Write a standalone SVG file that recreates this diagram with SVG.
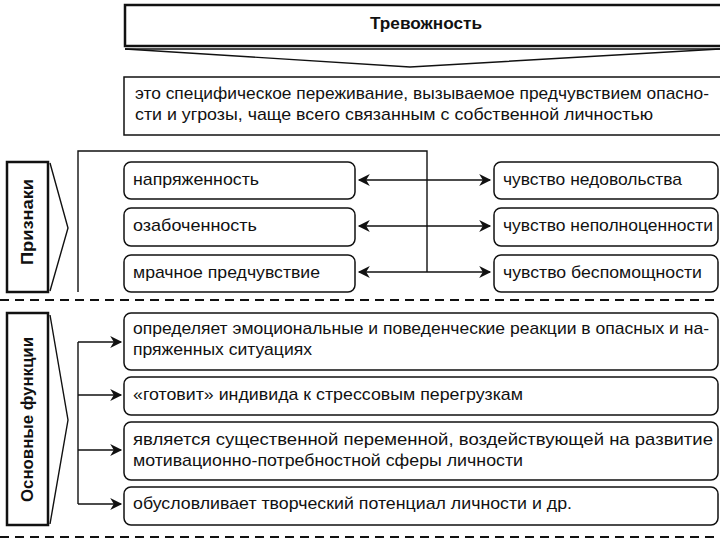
<svg xmlns="http://www.w3.org/2000/svg" width="720" height="540" viewBox="0 0 720 540">
<style>
  .t { font-family: "Liberation Sans", Arial, sans-serif; font-size: 17px; fill: #111; }
  .b { font-family: "Liberation Sans", Arial, sans-serif; font-size: 16px; font-weight: bold; fill: #111; }
  .box { fill: #fff; stroke: #111; stroke-width: 1.5; }
  .side { fill: #fff; stroke: #111; stroke-width: 2.5; }
  .ln { fill: none; stroke: #111; stroke-width: 1.4; }
  .dash { fill: none; stroke: #111; stroke-width: 2; stroke-dasharray: 9 6; }
</style>
<defs>
  <marker id="ah2" viewBox="0 0 10 10" refX="9" refY="5" markerWidth="14" markerHeight="12" markerUnits="userSpaceOnUse" orient="auto-start-reverse">
    <path d="M0,0 L10,5 L0,10 L3,5 Z" fill="#111"/>
  </marker>
</defs>
<rect width="720" height="540" fill="#fff"/>

<g id="title">
  <rect x="125" y="5" width="600" height="41" fill="#fff" stroke="#111" stroke-width="2.5"/>
  <path d="M125,49 L720,49" class="ln" stroke-width="2"/>
  <path d="M125,49 L410,67 L720,49" class="ln" stroke-width="1.8"/>
  <text class="b" x="370" y="29" textLength="112" lengthAdjust="spacingAndGlyphs">Тревожность</text>
</g>

<g id="definition">
  <rect x="124" y="77" width="600" height="58" class="box"/>
  <text class="t" x="135" y="99" textLength="574" lengthAdjust="spacingAndGlyphs">это специфическое переживание, вызываемое предчувствием опасно-</text>
  <text class="t" x="135" y="120" textLength="518" lengthAdjust="spacingAndGlyphs">сти и угрозы, чаще всего связанным с собственной личностью</text>
</g>

<g id="priznaki">
  <rect x="7" y="162" width="41" height="130" class="side"/>
  <path d="M50,163 L68,228 L50,291" class="ln" stroke-width="1.6"/>
  <text class="b" transform="translate(33,265) rotate(-90)" textLength="86" lengthAdjust="spacingAndGlyphs">Признаки</text>
</g>

<g id="funkcii">
  <rect x="7" y="313" width="41" height="212" class="side"/>
  <path d="M50,315 L68,420 L50,524" class="ln" stroke-width="1.6"/>
  <text class="b" transform="translate(33,502) rotate(-90)" textLength="165" lengthAdjust="spacingAndGlyphs">Основные функции</text>
</g>

<g id="sign1">
  <rect x="124" y="162" width="231" height="37" rx="7" class="box"/>
  <text class="t" x="133" y="185" textLength="126" lengthAdjust="spacingAndGlyphs">напряженность</text>
</g>
<g id="sign2">
  <rect x="124" y="208" width="231" height="38" rx="7" class="box"/>
  <text class="t" x="133" y="231" textLength="124" lengthAdjust="spacingAndGlyphs">озабоченность</text>
</g>
<g id="sign3">
  <rect x="124" y="255" width="231" height="37" rx="7" class="box"/>
  <text class="t" x="133" y="278" textLength="187" lengthAdjust="spacingAndGlyphs">мрачное предчувствие</text>
</g>
<g id="feel1">
  <rect x="494" y="162" width="224" height="37" rx="7" class="box"/>
  <text class="t" x="503" y="185" textLength="179" lengthAdjust="spacingAndGlyphs">чувство недовольства</text>
</g>
<g id="feel2">
  <rect x="494" y="208" width="224" height="38" rx="7" class="box"/>
  <text class="t" x="503" y="231" textLength="210" lengthAdjust="spacingAndGlyphs">чувство неполноценности</text>
</g>
<g id="feel3">
  <rect x="494" y="255" width="224" height="37" rx="7" class="box"/>
  <text class="t" x="503" y="278" textLength="199" lengthAdjust="spacingAndGlyphs">чувство беспомощности</text>
</g>

<g id="func1">
  <rect x="124" y="313" width="594" height="57" rx="7" class="box"/>
  <text class="t" x="133" y="334" textLength="576" lengthAdjust="spacingAndGlyphs">определяет эмоциональные и поведенческие реакции в опасных и на-</text>
  <text class="t" x="133" y="355" textLength="179" lengthAdjust="spacingAndGlyphs">пряженных ситуациях</text>
</g>
<g id="func2">
  <rect x="124" y="377" width="594" height="38" rx="7" class="box"/>
  <text class="t" x="133" y="400" textLength="390" lengthAdjust="spacingAndGlyphs">«готовит» индивида к стрессовым перегрузкам</text>
</g>
<g id="func3">
  <rect x="124" y="422" width="594" height="58" rx="7" class="box"/>
  <text class="t" x="133" y="445" textLength="580" lengthAdjust="spacingAndGlyphs">является существенной переменной, воздействующей на развитие</text>
  <text class="t" x="133" y="466" textLength="390" lengthAdjust="spacingAndGlyphs">мотивационно-потребностной сферы личности</text>
</g>
<g id="func4">
  <rect x="124" y="487" width="594" height="38" rx="7" class="box"/>
  <text class="t" x="133" y="509" textLength="439" lengthAdjust="spacingAndGlyphs">обусловливает творческий потенциал личности и др.</text>
</g>

<g id="connectors">
  <path d="M78,292 L78,151 L427,151 L427,272" class="ln"/>
  <path d="M359,180 L490,180" class="ln" marker-start="url(#ah2)" marker-end="url(#ah2)"/>
  <path d="M359,226 L490,226" class="ln" marker-start="url(#ah2)" marker-end="url(#ah2)"/>
  <path d="M359,272 L490,272" class="ln" marker-start="url(#ah2)" marker-end="url(#ah2)"/>
  <path d="M78,342 L78,504" class="ln"/>
  <path d="M78,342 L121,342" class="ln" marker-end="url(#ah2)"/>
  <path d="M78,395 L121,395" class="ln" marker-end="url(#ah2)"/>
  <path d="M78,450 L121,450" class="ln" marker-end="url(#ah2)"/>
  <path d="M78,504 L121,504" class="ln" marker-end="url(#ah2)"/>
  <path d="M0,300 L720,300" class="dash"/>
  <path d="M0,537 L720,537" class="dash"/>
</g>
</svg>
